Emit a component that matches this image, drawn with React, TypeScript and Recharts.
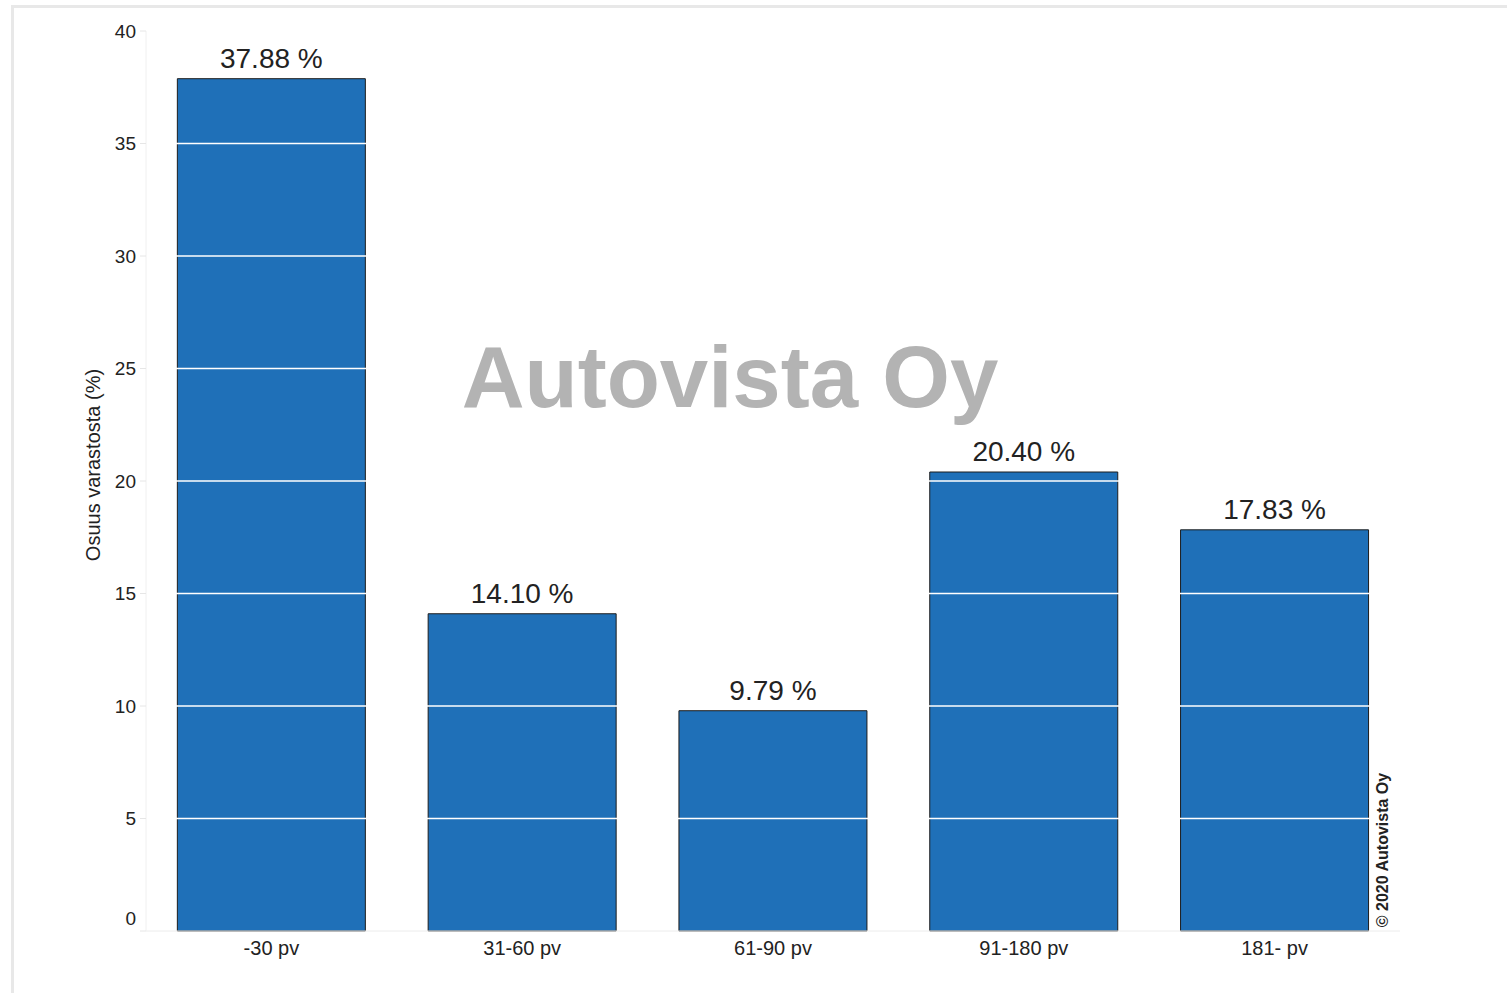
import React from "react";
import {
  Bar,
  BarChart,
  LabelList,
  ReferenceLine,
  XAxis,
  YAxis,
} from "recharts";

// stock age groups and their share of stock (%)
const categories = ["-30 pv", "31-60 pv", "61-90 pv", "91-180 pv", "181- pv"];
const shares = [37.88, 14.1, 9.79, 20.4, 17.83];
const yTicks = [0, 5, 10, 15, 20, 25, 30, 35, 40];

const FONT = "'Liberation Sans', Arial, sans-serif";
const BAR_COLOR = "#1f70b8";

const data = categories.map((name, i) => ({ name, share: shares[i] }));

// y tick: the zero label sits a bit above the axis line
const YTick = (props: any) => {
  const { x, y, payload } = props;
  const shift = payload.value === 0 ? -13 : 0;
  return (
    <text
      x={x}
      y={y + shift}
      dy="0.36em"
      textAnchor="end"
      fontSize={19}
      fill="#222"
      fontFamily={FONT}
    >
      {payload.value}
    </text>
  );
};

export default function App() {
  return (
    <div
      style={{
        position: "absolute",
        left: 0,
        top: 0,
        width: 1507,
        height: 993,
        overflow: "hidden",
        background: "#fff",
        fontFamily: FONT,
      }}
    >
      {/* outer frame */}
      <div
        style={{
          position: "absolute",
          left: 11,
          top: 5,
          width: 1600,
          height: 1100,
          border: "3px solid #e8e8e8",
          boxSizing: "border-box",
        }}
      />
      <BarChart
        width={1507}
        height={993}
        data={data}
        margin={{ top: 31, right: 107, bottom: 22, left: 86 }}
        barCategoryGap="12.5%"
        style={{ position: "absolute", left: 0, top: 0 }}
      >
        <XAxis
          dataKey="name"
          height={40}
          tickLine={false}
          axisLine={{ stroke: "#ececec" }}
          tick={{ fontSize: 20, fill: "#222", fontFamily: FONT }}
          tickMargin={4}
        />
        <YAxis
          width={60}
          domain={[0, 40]}
          ticks={yTicks}
          interval={0}
          axisLine={{ stroke: "#f0f0f0" }}
          tickLine={{ stroke: "#e6e6e6" }}
          tickSize={6}
          tickMargin={4}
          tick={<YTick />}
        />
        <Bar
          dataKey="share"
          fill={BAR_COLOR}
          stroke="#1c1c1c"
          strokeWidth={1}
          isAnimationActive={false}
        >
          <LabelList
            dataKey="share"
            position="top"
            offset={11}
            formatter={(v: any) => `${Number(v).toFixed(2)} %`}
            style={{ fontSize: 28, fill: "#222", fontFamily: FONT }}
          />
        </Bar>
        {yTicks
          .filter((t) => t > 0)
          .map((t) => (
            <ReferenceLine
              key={t}
              y={t}
              stroke="#ffffff"
              strokeWidth={1.5}
              zIndex={350}
            />
          ))}
      </BarChart>
      <svg
        width={1507}
        height={993}
        style={{ position: "absolute", left: 0, top: 0, pointerEvents: "none" }}
      >
        <text
          x={93}
          y={465}
          transform="rotate(-90 93 465)"
          textAnchor="middle"
          dominantBaseline="central"
          fontSize={20}
          fill="#222"
          fontFamily={FONT}
        >
          Osuus varastosta (%)
        </text>
        <text
          x={730}
          y={407}
          textAnchor="middle"
          fontSize={87}
          fontWeight="bold"
          fill="#b3b3b3"
          fontFamily={FONT}
        >
          Autovista Oy
        </text>
        <text
          x={1382}
          y={850}
          transform="rotate(-90 1382 850)"
          textAnchor="middle"
          dominantBaseline="central"
          fontSize={16}
          fontWeight="bold"
          fill="#222"
          fontFamily={FONT}
        >
          © 2020 Autovista Oy
        </text>
      </svg>
    </div>
  );
}
